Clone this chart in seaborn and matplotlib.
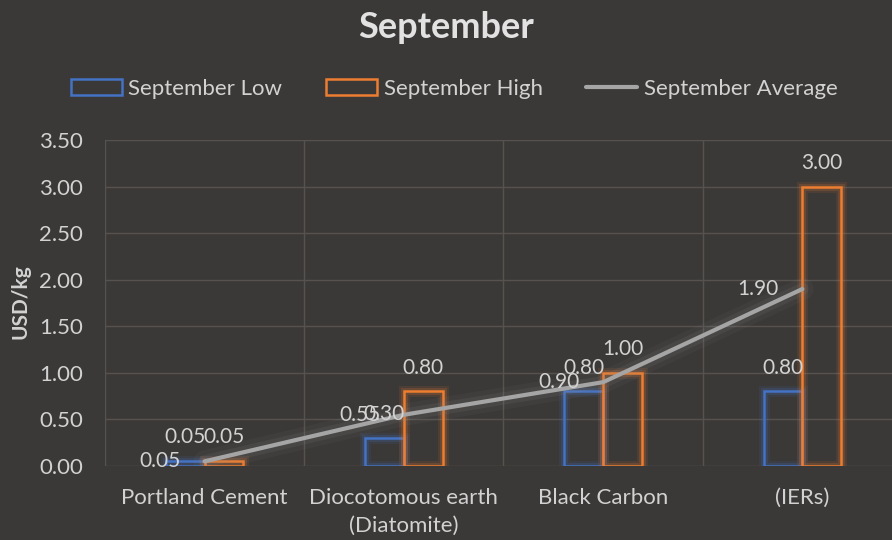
import numpy as np
import pandas as pd
import matplotlib
matplotlib.use("Agg")
import matplotlib.pyplot as plt
import matplotlib.patheffects as pe
from matplotlib.patches import Patch
from matplotlib.lines import Line2D
from matplotlib.ticker import FormatStrFormatter, FixedLocator
import seaborn as sns

# %% data
categories = ["Portland Cement", "Diocotomous earth\n(Diatomite)", "Black Carbon", "(IERs)"]
sept_low = [0.05, 0.30, 0.80, 0.80]
sept_high = [0.05, 0.80, 1.00, 3.00]
sept_avg = [0.05, 0.55, 0.90, 1.90]
series = ["September Low", "September High", "September Average"]
yticks = [0.0, 0.5, 1.0, 1.5, 2.0, 2.5, 3.0, 3.5]

# %% style
bg = "#3b3937"
txt = "#d2d2d2"
grid_c = "#555250"
blue = "#4472c4"
orange = "#ed7d31"
gray = "#a5a5a5"

sns.set_theme(style="dark", rc={"axes.facecolor": bg, "figure.facecolor": bg,
                                "text.color": txt, "xtick.color": txt, "ytick.color": txt,
                                "axes.labelcolor": txt})
plt.rcParams["font.family"] = ["Lato", "DejaVu Sans"]

fig = plt.figure(figsize=(8.92, 5.4), dpi=100)
ax = fig.add_axes([105 / 892, 74 / 540, 797 / 892, 326 / 540])

df = pd.DataFrame({
    "category": categories * 2,
    "series": [series[0]] * 4 + [series[1]] * 4,
    "value": sept_low + sept_high,
})

sns.barplot(data=df, x="category", y="value", hue="series", order=categories,
            hue_order=series[:2], palette=[blue, orange], fill=False, width=0.39,
            linewidth=1.8, errorbar=None, legend=False, ax=ax)

# glow on the outlined bars + labels above
for cont, c in zip(ax.containers, [blue, orange]):
    for bar in cont:
        bar.set_path_effects([pe.Stroke(linewidth=8, foreground=c, alpha=0.10),
                              pe.Stroke(linewidth=5, foreground=c, alpha=0.18),
                              pe.Normal()])
    ax.bar_label(cont, fmt="%.2f", padding=10, fontsize=15, color=txt, zorder=6)

# average line
x_pos = np.arange(len(categories))
sns.lineplot(x=x_pos, y=sept_avg, color=gray, linewidth=3, ax=ax, zorder=4)
avg_line = ax.lines[-1]
avg_line.set_solid_capstyle("round")
avg_line.set_path_effects([pe.Stroke(linewidth=16, foreground="#8c8c8c", alpha=0.07),
                           pe.Stroke(linewidth=9, foreground="#8c8c8c", alpha=0.12),
                           pe.Normal()])
for xi, v in zip(x_pos, sept_avg):
    ax.annotate(f"{v:.2f}", (xi, v), xytext=(-17, 0), textcoords="offset points",
                ha="right", va="center", fontsize=15, color=txt, zorder=6)

# axes
ax.set_xlim(-0.5, 3.5)
ax.set_ylim(0, 3.5)
ax.set_yticks(yticks)
ax.yaxis.set_major_formatter(FormatStrFormatter("%.2f"))
ax.set_xticks(x_pos)
ax.set_xticklabels(categories, linespacing=1.45)
ax.xaxis.set_minor_locator(FixedLocator(np.arange(-0.5, 4.0, 1.0)))
ax.set_xlabel("")
ax.set_ylabel("")
ax.tick_params(axis="x", which="both", length=0, pad=16, labelsize=16)
ax.tick_params(axis="y", length=0, pad=16, labelsize=16)
ax.grid(axis="y", which="major", color=grid_c, linewidth=1)
ax.grid(axis="x", which="minor", color=grid_c, linewidth=1)
ax.grid(axis="x", which="major", visible=False)
for s in ax.spines.values():
    s.set_visible(False)

fig.text(21 / 892, 1 - 302 / 540, "USD/kg", rotation=90, ha="center", va="center",
         fontsize=15, fontweight="bold", color=txt)
fig.text(0.5, 1 - 28 / 540, "September", ha="center", va="center",
         fontsize=26, fontweight="bold", color="#e2e2e2")

handles = [Patch(facecolor="none", edgecolor=blue, linewidth=1.8),
           Patch(facecolor="none", edgecolor=orange, linewidth=1.8),
           Line2D([], [], color=gray, linewidth=3)]
fig.legend(handles, series, loc="center", bbox_to_anchor=(454 / 892, 1 - 89 / 540), ncol=3,
           frameon=False, fontsize=16, handlelength=2.3, handleheight=0.7,
           handletextpad=0.3, columnspacing=1.95, labelcolor=txt)

fig.savefig("out.png", dpi=100, facecolor=bg)
